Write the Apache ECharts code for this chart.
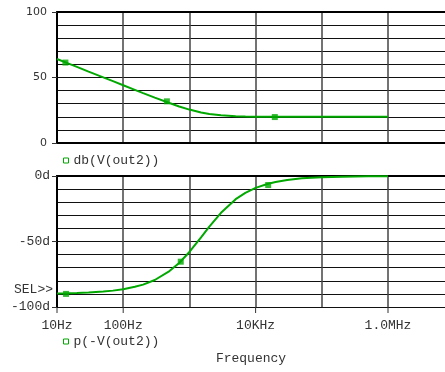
<!DOCTYPE html>
<html>
<head>
<meta charset="utf-8">
<script src="https://cdn.jsdelivr.net/npm/echarts@6/dist/echarts.min.js"></script>
<style>
html,body{margin:0;padding:0;background:#fff;}
#main{width:445px;height:372px;}
</style>
</head>
<body>
<div id="main"></div>
<script>
// frequencies (Hz)
var freqs = [10, 15, 20, 30, 50, 70, 100, 150, 200, 300, 500, 700, 1000, 1500, 2000,
             3000, 5000, 7000, 10000, 15000, 20000, 30000, 50000, 100000, 200000, 500000, 1000000];
// db(V(out2))
var magDb = [64.1, 60.6, 58.1, 54.5, 50.1, 47.2, 44.1, 40.6, 38.1, 34.6, 30.5, 27.9, 25.5, 23.3, 22.1,
             21.1, 20.4, 20.2, 20.1, 20.05, 20.0, 20.0, 20.0, 20.0, 20.0, 20.0, 20.0];
// p(-V(out2)) in degrees
var phaseDeg = [-89.6, -89.5, -89.3, -88.9, -88.2, -87.5, -86.4, -84.6, -82.9, -79.4, -72.6, -66.4, -58.0, -46.8, -38.7,
                -28.1, -17.7, -12.9, -9.1, -6.1, -4.6, -3.1, -1.8, -0.9, -0.5, -0.2, -0.1];
// marker symbols on the traces
var magMarkFreq = [13.4, 457, 19500];
var magMarkVal = [61.4, 31.8, 19.8];
var phaseMarkFreq = [13.7, 740, 15500];
var phaseMarkVal = [-90, -65.4, -6.9];
// labelled frequency ticks
var freqLabels = {10: '10Hz', 100: '100Hz', 10000: '10KHz', 1000000: '1.0MHz'};
// visible end of the frequency axis (plot runs off the right edge)
var freqMax = 7260000;

var green = '#00a800';
var mono = '"Liberation Mono", "DejaVu Sans Mono", monospace';
var frame = {show: true, lineStyle: {color: '#000', width: 2}};
// decade lines; the last one (at the cut-off edge) is not drawn
var decadeColors = ['#444', '#444', '#444', '#444', '#444', '#444', 'rgba(0,0,0,0)'];

function pairs(xs, ys){
    var out = [];
    for (var i = 0; i < xs.length; i++) out.push([xs[i], ys[i]]);
    return out;
}

var chart = echarts.init(document.getElementById('main'));

var xBase = {
    type: 'log',
    logBase: 10,
    min: 10,
    max: freqMax,
    interval: 1,
    axisLine: frame,
    axisTick: {show: false},
    splitLine: {show: true, lineStyle: {color: decadeColors, width: 1.5}}
};
// top edge of each panel
var xTop = {
    type: 'log', logBase: 10, min: 10, max: freqMax, interval: 1, position: 'top',
    axisLine: frame, axisTick: {show: false}, axisLabel: {show: false}, splitLine: {show: false}
};

var option = {
    animation: false,
    grid: [
        {left: 57, top: 12, right: 0, height: 131},
        {left: 57, top: 176, right: 0, height: 131}
    ],
    legend: [
        {
            left: 58, top: 149, icon: 'rect', itemWidth: 5, itemHeight: 5,
            itemStyle: {color: '#fff', borderColor: green, borderWidth: 1},
            textStyle: {fontFamily: mono, fontSize: 13, color: '#333'},
            data: ['db(V(out2))']
        },
        {
            left: 58, top: 330, icon: 'rect', itemWidth: 5, itemHeight: 5,
            itemStyle: {color: '#fff', borderColor: green, borderWidth: 1},
            textStyle: {fontFamily: mono, fontSize: 13, color: '#333'},
            data: ['p(-V(out2))']
        }
    ],
    xAxis: [
        Object.assign({}, xBase, {gridIndex: 0, axisLabel: {show: false}}),
        Object.assign({}, xBase, {
            gridIndex: 1,
            axisLabel: {
                show: true, margin: 12, fontFamily: mono, fontSize: 13, color: '#333',
                showMaxLabel: false,
                formatter: function(v){ return freqLabels[Math.round(v)] || ''; }
            },
            name: 'Frequency',
            nameLocation: 'middle',
            nameGap: 45,
            nameTextStyle: {fontFamily: mono, fontSize: 13, color: '#333'}
        }),
        Object.assign({}, xTop, {gridIndex: 0}),
        Object.assign({}, xTop, {gridIndex: 1})
    ],
    yAxis: [
        {
            type: 'value', gridIndex: 0, min: 0, max: 100, interval: 50,
            axisLine: frame,
            axisTick: {show: true, length: 5, lineStyle: {color: '#333'}},
            axisLabel: {margin: 10, fontFamily: '"DejaVu Sans", sans-serif', fontSize: 11, color: '#333'},
            splitLine: {show: true, lineStyle: {color: '#111', width: 1}},
            minorTick: {show: false, splitNumber: 5},
            minorSplitLine: {show: true, lineStyle: {color: '#111', width: 1}}
        },
        {
            type: 'value', gridIndex: 1, min: -100, max: 0, interval: 50,
            axisLine: frame,
            axisTick: {show: true, length: 5, lineStyle: {color: '#333'}},
            axisLabel: {margin: 7, fontFamily: mono, fontSize: 13, color: '#333',
                formatter: function(v){ return v + 'd'; }},
            splitLine: {show: true, lineStyle: {color: '#111', width: 1}},
            minorTick: {show: false, splitNumber: 5},
            minorSplitLine: {show: true, lineStyle: {color: '#111', width: 1}}
        }
    ],
    series: [
        {
            name: 'db(V(out2))', type: 'line', xAxisIndex: 0, yAxisIndex: 0,
            data: pairs(freqs, magDb), showSymbol: false, smooth: false,
            lineStyle: {color: green, width: 2}, itemStyle: {color: green}, z: 5
        },
        {
            name: 'db(V(out2))', type: 'scatter', xAxisIndex: 0, yAxisIndex: 0,
            data: pairs(magMarkFreq, magMarkVal), symbol: 'rect', symbolSize: 6,
            itemStyle: {color: green}, z: 6
        },
        {
            name: 'p(-V(out2))', type: 'line', xAxisIndex: 1, yAxisIndex: 1,
            data: pairs(freqs, phaseDeg), showSymbol: false, smooth: false,
            lineStyle: {color: green, width: 2}, itemStyle: {color: green}, z: 5
        },
        {
            name: 'p(-V(out2))', type: 'scatter', xAxisIndex: 1, yAxisIndex: 1,
            data: pairs(phaseMarkFreq, phaseMarkVal), symbol: 'rect', symbolSize: 6,
            itemStyle: {color: green}, z: 6
        }
    ]
};

chart.setOption(option);

// tick marks only under the labelled frequencies, placed through the axis scale
var graphics = [];
for (var f in freqLabels) {
    var p = chart.convertToPixel({xAxisIndex: 1, yAxisIndex: 1}, [Number(f), -100]);
    graphics.push({
        type: 'line',
        shape: {x1: p[0], y1: p[1], x2: p[0], y2: p[1] + 6},
        style: {stroke: '#333', lineWidth: 1}
    });
}
var sel = chart.convertToPixel({yAxisIndex: 1}, -88);
graphics.push({
    type: 'text', right: 445 - 53, top: sel - 8,
    style: {text: 'SEL>>', font: '13px ' + mono, fill: '#333'}
});
chart.setOption({graphic: graphics});
</script>
</body>
</html>
